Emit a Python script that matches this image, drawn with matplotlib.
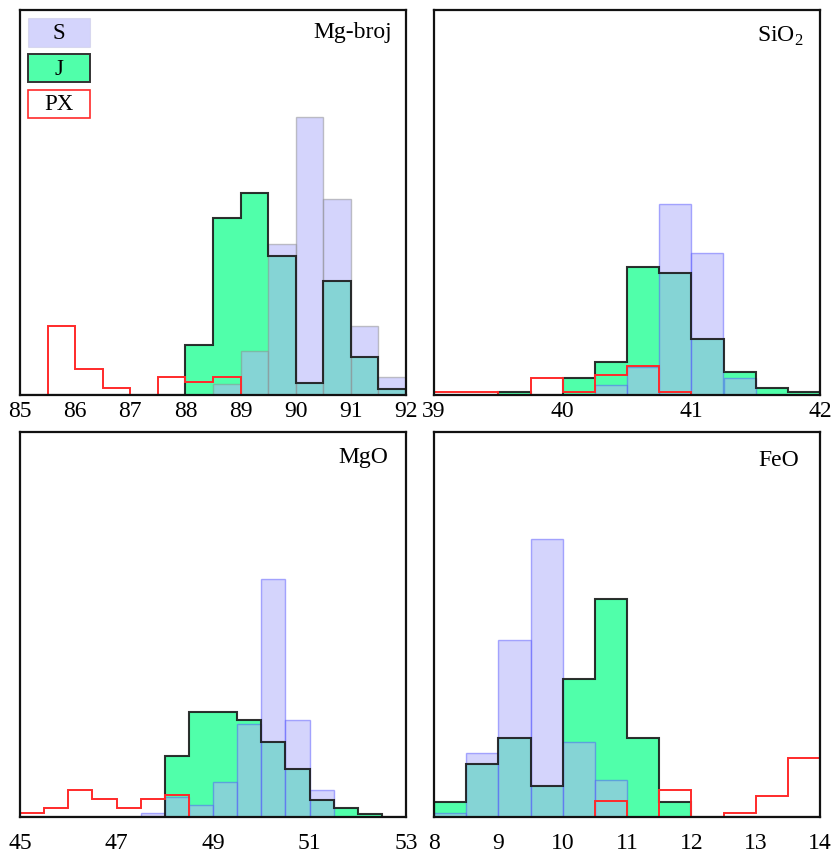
import numpy as np
import matplotlib
matplotlib.use("Agg")
import matplotlib.pyplot as plt
from matplotlib.patches import Rectangle

plt.rcParams['font.family'] = ['Liberation Serif', 'DejaVu Serif']
plt.rcParams['mathtext.fontset'] = 'custom'
plt.rcParams['mathtext.rm'] = 'Liberation Serif'

# ---------------- data (relative frequency, % of axis height) ----------------
mg_edges = np.arange(85.0, 92.01, 0.5)
mg_S = [0, 0, 0, 0, 0, 0, 0, 2.9, 11.5, 39.2, 72.3, 50.8, 18.0, 4.8]
mg_J = [0, 0, 0, 0, 0, 0, 13.0, 45.9, 52.5, 36.1, 3.1, 29.5, 9.8, 1.6]
mg_PX = [0, 18.0, 6.8, 1.8, 0, 4.8, 3.3, 4.8, 0, 0, 0, 0, 0, 0]

si_edges = np.arange(39.0, 42.01, 0.25)
si_S = [0, 0, 0, 0, 0, 2.6, 7.4, 49.6, 36.8, 4.3, 0, 0]
si_J = [0, 0, 0.7, 0, 4.3, 8.7, 33.3, 31.7, 14.5, 6.1, 1.7, 0.9]
si_PX = [0.7, 0.7, 0, 4.3, 0.9, 5.2, 7.6, 0.7, 0, 0, 0, 0]

mgo_edges = np.arange(45.0, 53.01, 0.5)
mgo_S = [0, 0, 0, 0, 0, 1.0, 5.2, 3.2, 9.1, 24.1, 61.9, 25.1, 6.9, 0, 0, 0]
mgo_J = [0, 0, 0, 0, 0, 0, 15.8, 27.4, 27.4, 25.1, 19.5, 12.4, 4.3, 2.3, 0.9, 0]
mgo_PX = [1.0, 2.3, 6.9, 4.6, 2.3, 4.6, 5.6, 0, 0, 0, 0, 0, 0, 0, 0, 0]

feo_edges = np.arange(8.0, 14.01, 0.5)
feo_S = [1.1, 16.6, 45.9, 72.1, 19.5, 9.7, 0, 0, 0, 0, 0, 0]
feo_J = [3.9, 13.7, 20.6, 8.1, 35.9, 56.7, 20.6, 3.9, 0, 0, 0, 0]
feo_PX = [0, 0, 0, 0, 0, 4.1, 0, 6.9, 0, 1.1, 5.5, 15.2]

mg_ticks = [85, 86, 87, 88, 89, 90, 91, 92]
si_ticks = [39, 40, 41, 42]
mgo_ticks = [45, 47, 49, 51, 53]
feo_ticks = [8, 9, 10, 11, 12, 13, 14]

titles = ['Mg-broj', r'SiO$_\mathregular{2}$', 'MgO', 'FeO']
legend_labels = ['S', 'J', 'PX']

# ---------------- style ----------------
J_COLOR = '#50FFAA'
S_FACE = (178/255, 178/255, 250/255, 0.55)
S_EDGE_BLUE = (0.30, 0.30, 1.0, 0.45)
S_EDGE_GRAY = (0.55, 0.55, 0.55, 0.5)
PX_COLOR = '#FF2A2A'

fig = plt.figure(figsize=(8.33, 8.54), dpi=100)
W, H = 833, 854

def add_ax(x0, y0, x1, y1):
    return fig.add_axes([x0 / W, 1 - y1 / H, (x1 - x0) / W, (y1 - y0) / H])

axes = [add_ax(20, 11, 406, 396), add_ax(434, 11, 820, 396),
        add_ax(20, 433, 406, 818), add_ax(434, 433, 820, 818)]

panels = [
    (mg_edges, mg_S, mg_J, mg_PX, mg_ticks, S_EDGE_GRAY),
    (si_edges, si_S, si_J, si_PX, si_ticks, S_EDGE_BLUE),
    (mgo_edges, mgo_S, mgo_J, mgo_PX, mgo_ticks, S_EDGE_BLUE),
    (feo_edges, feo_S, feo_J, feo_PX, feo_ticks, S_EDGE_BLUE),
]
title_pos = [(0.964, 0.929), (0.956, 0.920), (0.953, 0.923), (0.945, 0.915)]

for i, (ax, (edges, S, J, PX, ticks, sedge)) in enumerate(zip(axes, panels)):
    J = np.asarray(J, float)
    S = np.asarray(S, float)
    PX = np.asarray(PX, float)
    ax.stairs(J, edges, fill=True, color=J_COLOR, zorder=1, linewidth=0)
    ax.bar(edges[:-1], S, width=np.diff(edges), align='edge',
           facecolor=S_FACE, edgecolor=sedge, linewidth=1.0, zorder=2)
    ax.stairs(J, edges, color=(0.1, 0.1, 0.1, 0.9), linewidth=1.5, zorder=3,
              baseline=0)
    ax.stairs(PX, edges, color=PX_COLOR, linewidth=1.4, zorder=4, baseline=0)
    ax.set_xlim(edges[0], edges[-1])
    ax.set_ylim(0, 100)
    ax.set_yticks([])
    ax.set_xticks(ticks)
    ax.set_xticklabels([str(t) for t in ticks])
    pad = 3.5 if i < 2 else 10.5
    ax.tick_params(axis='x', length=0, pad=pad, labelsize=17)
    for sp in ax.spines.values():
        sp.set_linewidth(1.6)
        sp.set_color('#111111')
        sp.set_zorder(6)
    tx, ty = title_pos[i]
    ax.text(tx, ty, titles[i], transform=ax.transAxes, ha='right',
            va='baseline', fontsize=17, zorder=7)

# legend boxes drawn in panel 1 with labels inside
ax0 = axes[0]
boxes = [
    (0.905, S_FACE, (0.8, 0.8, 0.9, 0.6), 0.8),
    (0.812, J_COLOR, '#333333', 1.4),
    (0.7195, 'white', PX_COLOR, 1.2),
]
for (yb, fc, ec, lw), lab in zip(boxes, legend_labels):
    ax0.add_patch(Rectangle((0.0215, yb), 0.1595, 0.073, transform=ax0.transAxes,
                            facecolor=fc, edgecolor=ec, linewidth=lw, zorder=8))
    ax0.text(0.0215 + 0.1595 / 2, yb + 0.073 / 2, lab, transform=ax0.transAxes,
             ha='center', va='center', fontsize=16.5, zorder=9)

fig.savefig('out.png', dpi=100)
